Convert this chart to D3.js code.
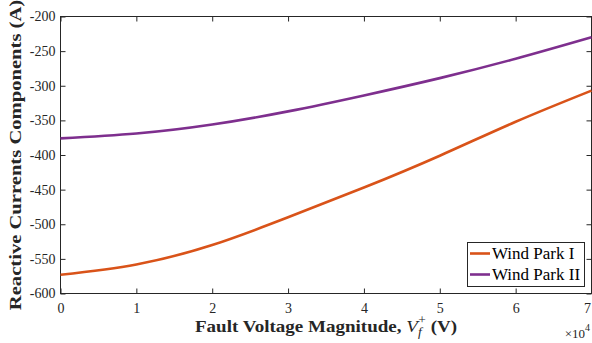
<!DOCTYPE html>
<html>
<head>
<meta charset="utf-8">
<script src="https://cdn.jsdelivr.net/npm/d3@7"></script>
<style>
  body { margin: 0; background: #fff; }
  svg text { font-family: "Liberation Serif", "Times New Roman", Times, serif; }
</style>
</head>
<body>
<div id="chart"></div>
<script>
// Data
const voltage = [0, 10000, 20000, 30000, 40000, 50000, 60000, 70000];
const parkI = [-573, -558, -530, -490, -447, -401, -352, -307];
const parkII = [-376, -369, -356, -337, -314, -289, -261, -230];
const seriesNames = ["Wind Park I", "Wind Park II"];
const xTicks = [0, 10000, 20000, 30000, 40000, 50000, 60000, 70000];
const yTicks = [-600, -550, -500, -450, -400, -350, -300, -250, -200];

const colors = ["#D95319", "#7E2F8E"];
const axisColor = "#262626";

// Set up chart dimensions and margins
const margin = { top: 16.5, right: 0.5, bottom: 49.5, left: 60.5 };
const width = 592 - margin.left - margin.right;
const height = 343 - margin.top - margin.bottom;

const root = d3.select("#chart")
    .append("svg")
    .attr("width", 592)
    .attr("height", 343);

const svg = root.append("g")
    .attr("transform", `translate(${margin.left},${margin.top})`);

const x = d3.scaleLinear().domain([0, 70000]).range([0, width]);
const y = d3.scaleLinear().domain([-600, -200]).range([height, 0]);

// Axes, ticks pointing inward on all four sides
const styleAxis = g => {
    g.attr("font-family", null).attr("font-size", null);
    g.select(".domain").remove();
    g.selectAll(".tick line").attr("stroke", axisColor);
    g.selectAll("text")
        .attr("fill", axisColor)
        .style("font-size", "14px");
};

const xAxis = svg.append("g")
    .attr("transform", `translate(0,${height})`)
    .call(d3.axisBottom(x).tickValues(xTicks).tickSizeInner(-5).tickSizeOuter(0)
        .tickPadding(10).tickFormat(d => String(d / 10000)))
    .call(styleAxis);

// last label sits on the window edge, keep it inside
xAxis.selectAll(".tick text").filter(d => d === 70000).attr("text-anchor", "end").attr("dx", -1);

svg.append("g")
    .call(d3.axisTop(x).tickValues(xTicks).tickSizeInner(-5).tickSizeOuter(0).tickFormat(""))
    .call(styleAxis);

svg.append("g")
    .call(d3.axisLeft(y).tickValues(yTicks).tickSizeInner(-5).tickSizeOuter(0).tickPadding(5)
        .tickFormat(d => String(d)))
    .call(styleAxis);

svg.append("g")
    .attr("transform", `translate(${width},0)`)
    .call(d3.axisRight(y).tickValues(yTicks).tickSizeInner(-5).tickSizeOuter(0).tickFormat(""))
    .call(styleAxis);

// Box around the plot
svg.append("rect")
    .attr("width", width)
    .attr("height", height)
    .attr("fill", "none")
    .attr("stroke", axisColor)
    .attr("stroke-width", 1);

// Lines
const line = d3.line()
    .x((d, i) => x(voltage[i]))
    .y(d => y(d))
    .curve(d3.curveNatural);

[parkI, parkII].forEach((vals, i) => {
    svg.append("path")
        .datum(vals)
        .attr("fill", "none")
        .attr("stroke", colors[i])
        .attr("stroke-width", 2.6)
        .attr("d", line);
});

// Axis labels
const xl = root.append("text")
    .attr("transform", "translate(326,332) scale(1.12,1)")
    .attr("text-anchor", "middle")
    .attr("fill", axisColor)
    .style("font-size", "17px");
xl.append("tspan").attr("font-weight", "bold").text("Fault Voltage Magnitude, ");
xl.append("tspan").attr("font-style", "italic").text("V");
xl.append("tspan").attr("font-style", "italic").attr("dy", 4).style("font-size", "12px").text("f");
xl.append("tspan").attr("dx", -3).attr("dy", -12).style("font-size", "12px").text("+");
xl.append("tspan").attr("dy", 8).attr("font-weight", "bold").text(" (V)");

root.append("text")
    .attr("transform", "translate(21,155) rotate(-90) scale(1.25,1)")
    .attr("text-anchor", "middle")
    .attr("font-weight", "bold")
    .attr("fill", axisColor)
    .style("font-size", "16.5px")
    .text("Reactive Currents Components (A)");

// Exponent label
const ex = root.append("text")
    .attr("x", 590)
    .attr("y", 338)
    .attr("text-anchor", "end")
    .attr("fill", axisColor)
    .style("font-size", "13px");
ex.append("tspan").text("×10");
ex.append("tspan").attr("dy", -7).style("font-size", "10px").text("4");

// Legend
const legend = root.append("g");
legend.append("rect")
    .attr("x", 467.5)
    .attr("y", 242.5)
    .attr("width", 117)
    .attr("height", 44)
    .attr("fill", "#fff")
    .attr("stroke", axisColor)
    .attr("stroke-width", 1);

seriesNames.forEach((name, i) => {
    const cy = 253.5 + i * 21;
    legend.append("line")
        .attr("x1", 470).attr("x2", 490)
        .attr("y1", cy).attr("y2", cy)
        .attr("stroke", colors[i])
        .attr("stroke-width", 2.6);
    legend.append("text")
        .attr("x", 492)
        .attr("y", cy + 5.5)
        .attr("fill", "#000")
        .style("font-size", "17px")
        .text(name);
});
</script>
</body>
</html>
